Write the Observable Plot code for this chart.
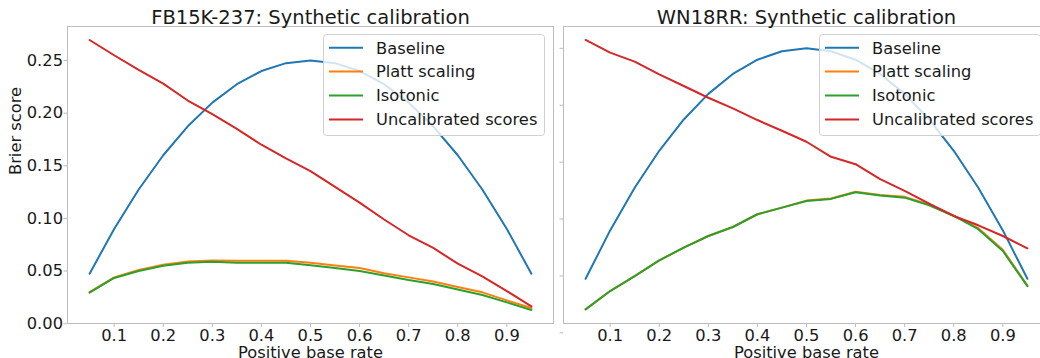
<!DOCTYPE html>
<html><head><meta charset="utf-8">
<script src="https://cdn.jsdelivr.net/npm/d3@7"></script>
<script src="https://cdn.jsdelivr.net/npm/@observablehq/plot@0.6"></script>
<style>
html,body{margin:0;padding:0;background:#fff;overflow:hidden;}
#wrap{position:relative;width:1040px;height:358px;overflow:hidden;background:#fff;}
#wrap > svg{position:absolute;top:0;}
</style></head><body><div id="wrap"></div>
<script>
// ---- data ----
const rates = [0.05,0.10,0.15,0.20,0.25,0.30,0.35,0.40,0.45,0.50,0.55,0.60,0.65,0.70,0.75,0.80,0.85,0.90,0.95];
const seriesNames = ["Baseline","Platt scaling","Isotonic","Uncalibrated scores"];
const seriesColors = ["#1f77b4","#ff7f0e","#2ca02c","#d62728"];
const panelTitles = ["FB15K-237: Synthetic calibration","WN18RR: Synthetic calibration"];
const xTicks = [0.1,0.2,0.3,0.4,0.5,0.6,0.7,0.8,0.9];
const yTicks = [0.00,0.05,0.10,0.15,0.20,0.25];
const xLabel = "Positive base rate";
const yLabel = "Brier score";

const fbBaseline = [0.0475,0.09,0.1275,0.16,0.1875,0.21,0.2275,0.24,0.2475,0.25,0.2475,0.24,0.2275,0.21,0.1875,0.16,0.1275,0.09,0.0475];
const fbPlatt    = [0.0300,0.0440,0.0510,0.0560,0.0590,0.0600,0.0598,0.0598,0.0598,0.0578,0.0552,0.0530,0.0480,0.0440,0.0400,0.0349,0.0298,0.0222,0.0149];
const fbIsotonic = [0.0295,0.0435,0.0500,0.0550,0.0580,0.0588,0.0580,0.0580,0.0580,0.0555,0.0530,0.0500,0.0458,0.0415,0.0378,0.0324,0.0273,0.0203,0.0130];
const fbUncal    = [0.2695,0.2550,0.2410,0.2280,0.2120,0.1990,0.1850,0.1700,0.1570,0.1450,0.1300,0.1150,0.0990,0.0840,0.0720,0.0570,0.0450,0.0310,0.0165];

const wnBaseline = [0.0475,0.09,0.1275,0.16,0.1875,0.21,0.2275,0.24,0.2475,0.25,0.2475,0.24,0.2275,0.21,0.1875,0.16,0.1275,0.09,0.0475];
const wnPlatt    = [0.0206,0.0367,0.0499,0.0637,0.0748,0.0851,0.0930,0.1042,0.1100,0.1162,0.1180,0.1240,0.1212,0.1195,0.1128,0.1030,0.0920,0.0730,0.0415];
const wnIsotonic = [0.0206,0.0367,0.0499,0.0637,0.0748,0.0851,0.0930,0.1042,0.1100,0.1159,0.1177,0.1236,0.1206,0.1188,0.1121,0.1027,0.0911,0.0719,0.0410];
const wnUncal    = [0.2574,0.2462,0.2383,0.2271,0.2169,0.2066,0.1972,0.1870,0.1776,0.1679,0.1547,0.1482,0.1350,0.1247,0.1136,0.1027,0.0945,0.0851,0.0743];

const FONT = "DejaVu Sans";
const FS = 16.3;
const SPINE = "#bdbdbd";
const TEXT = "#1a1a1a";

function toRows(series) {
  const rows = [];
  seriesNames.forEach((name, i) => rates.forEach((r, j) => rows.push({series: name, rate: r, value: series[i][j]})));
  return rows;
}

function panel({title, series, yDomain, labels, width, marginLeft, marginRight, left}) {
  const rows = toRows(series);
  const marks = [
    Plot.frame({stroke: SPINE, strokeWidth: 1}),
    Plot.axisX({ticks: xTicks, tickFormat: d3.format(".1f"), tickSize: 4, tickPadding: 1.5,
                fontSize: FS, stroke: SPINE, fill: TEXT, label: null}),
    Plot.axisY({ticks: yTicks, tickFormat: labels ? d3.format(".2f") : () => "", tickSize: 3.5, tickPadding: 1,
                fontSize: FS, stroke: SPINE, fill: TEXT, label: null}),
    Plot.line(rows, {x: "rate", y: "value", stroke: "series", z: "series", strokeWidth: 2}),
    Plot.text([title], {frameAnchor: "top", dy: -3, lineAnchor: "bottom", fontSize: 19.5, fill: TEXT}),
    Plot.text([xLabel], {frameAnchor: "bottom", dy: 34, lineAnchor: "bottom", fontSize: FS, fill: TEXT})
  ];
  if (labels) marks.push(Plot.text([yLabel], {frameAnchor: "left", dx: -51.5, rotate: -90, lineAnchor: "middle", fontSize: FS, fill: TEXT}));
  const svg = Plot.plot({
    width, height: 358,
    marginLeft, marginRight, marginTop: 26, marginBottom: 35,
    style: {fontFamily: FONT, fontSize: FS + "px", background: "none", color: TEXT, overflow: "visible"},
    x: {domain: [0.005, 0.995]},
    y: {domain: yDomain},
    color: {domain: seriesNames, range: seriesColors},
    marks
  });
  svg.style.left = left + "px";
  return svg;
}

const wrap = document.getElementById("wrap");
const p1 = panel({title: panelTitles[0], series: [fbBaseline, fbPlatt, fbIsotonic, fbUncal],
  yDomain: [0.0002, 0.2823], labels: true, width: 560, marginLeft: 67, marginRight: 7, left: 0});
const p2 = panel({title: panelTitles[1], series: [wnBaseline, wnPlatt, wnIsotonic, wnUncal],
  yDomain: [0.0082, 0.2692], labels: false, width: 540, marginLeft: 43, marginRight: 11, left: 520});
wrap.appendChild(p1);
wrap.appendChild(p2);

// ---- legends (overlay) ----
const ov = d3.select(wrap).append("svg")
  .attr("width", 1040).attr("height", 358)
  .style("left", "0px").style("font-family", FONT).style("font-size", FS + "px");
[[323, 221], [819, 221]].forEach(([lx, lw]) => {
  const g = ov.append("g").attr("transform", `translate(${lx},34)`);
  g.append("rect").attr("x", 0.5).attr("y", 0.5).attr("width", lw).attr("height", 101)
    .attr("rx", 3).attr("fill", "white").attr("fill-opacity", 0.8).attr("stroke", "#d0d0d0");
  seriesNames.forEach((name, i) => {
    const cy = 13.7 + i * 23.9;
    g.append("line").attr("x1", 6).attr("x2", 40).attr("y1", cy).attr("y2", cy)
      .attr("stroke", seriesColors[i]).attr("stroke-width", 2);
    g.append("text").attr("x", 53).attr("y", cy).attr("dy", "0.36em").attr("fill", TEXT).text(name);
  });
});
</script></body></html>
